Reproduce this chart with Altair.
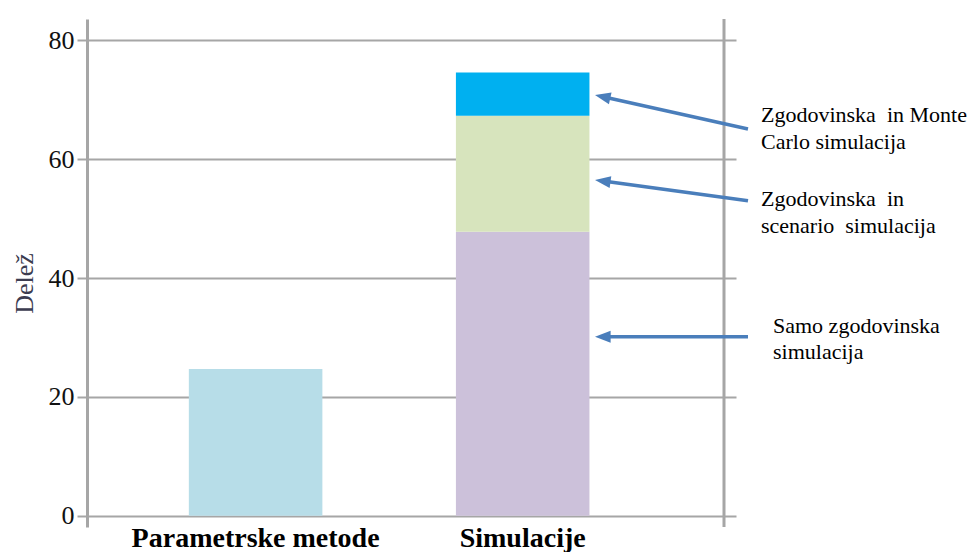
import math

import altair as alt
import pandas as pd

# ---- data -------------------------------------------------------------
categories = ["Parametrske metode", "Simulacije", "Simulacije", "Simulacije"]
segments = [
    "Parametrske metode",
    "Samo zgodovinska simulacija",
    "Zgodovinska in scenario simulacija",
    "Zgodovinska in Monte Carlo simulacija",
]
values = [24.7, 47.8, 19.5, 7.3]
stack_order = [0, 0, 1, 2]
segment_colors = ["#b7dde8", "#ccc1da", "#d7e4bd", "#00b0f0"]
y_ticks = [0, 20, 40, 60, 80]

# callouts: arrow tip / tail heights (data units) and two-line labels
arrow_tip_y = [70.8, 56.5, 30.1]
arrow_tail_y = [65.1, 53.0, 30.1]
label_line1 = ["Zgodovinska\u00a0 in Monte", "Zgodovinska\u00a0 in", "Samo zgodovinska"]
label_line2 = ["Carlo simulacija", "scenario\u00a0 simulacija", "simulacija"]
label_line1_y = [67.4, 53.3, 31.9]
label_line2_y = [62.9, 48.8, 27.5]

# ---- layout ------------------------------------------------------------
W, H = 649, 508
Y_DOMAIN = [-1.9, 83.6]
PX_PER_UNIT = H / (Y_DOMAIN[1] - Y_DOMAIN[0])
ARROW_TIP_X, ARROW_TAIL_X = 508, 661
LABEL_X = [674, 674, 686]
GRID = "#a6a6a6"
ARROW = "#4a7ebb"
FONT = "Liberation Serif"

bars = pd.DataFrame(
    {"category": categories, "segment": segments, "value": values, "order": stack_order}
)

head_len = 8
arrows = pd.DataFrame(
    {
        "tip": arrow_tip_y,
        "tail": arrow_tail_y,
    }
)
span = ARROW_TAIL_X - ARROW_TIP_X
arrows["start"] = arrows["tip"] + (arrows["tail"] - arrows["tip"]) * head_len / span
arrows["angle"] = [
    math.degrees(math.atan2((t - b) * PX_PER_UNIT, span))
    for t, b in zip(arrows["tip"], arrows["tail"])
]

labels = pd.DataFrame(
    {
        "text": label_line1 + label_line2,
        "y": label_line1_y + label_line2_y,
        "x": LABEL_X + LABEL_X,
    }
)

y_scale = alt.Scale(domain=Y_DOMAIN, nice=False, zero=False)

bar_layer = (
    alt.Chart(bars)
    .mark_bar()
    .encode(
        x=alt.X(
            "category:N",
            sort=["Parametrske metode", "Simulacije"],
            scale=alt.Scale(paddingInner=0.5, paddingOuter=0.465, align=0.41),
            axis=alt.Axis(
                title=None,
                domain=False,
                ticks=False,
                grid=False,
                labelAngle=0,
                labelLimit=0,
                labelFont=FONT,
                labelFontSize=28,
                labelFontWeight="bold",
                labelColor="#000000",
                labelBaseline="alphabetic",
                labelPadding=19,
            ),
        ),
        y=alt.Y(
            "value:Q",
            stack="zero",
            scale=y_scale,
            axis=alt.Axis(
                values=y_ticks,
                title="Delež",
                titleFont=FONT,
                titleFontSize=26,
                titleFontWeight="normal",
                titleColor="#3c3c50",
                titleAngle=-90,
                titleAlign="center",
                titleBaseline="middle",
                titleX=-63,
                titleY=264,
                labelFont=FONT,
                labelFontSize=26,
                labelColor="#111111",
                labelPadding=3,
                tickSize=10,
                tickColor=GRID,
                tickWidth=2,
                domainColor=GRID,
                domainWidth=3,
                gridColor=GRID,
                gridWidth=2,
            ),
        ),
        color=alt.Color(
            "segment:N",
            scale=alt.Scale(domain=segments, range=segment_colors),
            legend=None,
        ),
        order=alt.Order("order:Q"),
    )
)

right_frame = (
    alt.Chart(pd.DataFrame({"v": [0]}))
    .mark_rule(color=GRID, strokeWidth=3)
    .encode(x=alt.value(637), y=alt.value(0), y2=alt.value(H))
)

arrow_lines = (
    alt.Chart(arrows)
    .mark_rule(color=ARROW, strokeWidth=3.5)
    .encode(
        x=alt.value(ARROW_TIP_X + head_len),
        x2=alt.value(ARROW_TAIL_X),
        y=alt.Y("start:Q", scale=y_scale),
        y2="tail:Q",
    )
)

arrow_heads = (
    alt.Chart(arrows)
    .mark_point(
        shape="M0,0 L2.6,-1 L2.6,1 Z",
        filled=True,
        opacity=1,
        size=144,
        color=ARROW,
        strokeWidth=0,
    )
    .encode(
        x=alt.value(ARROW_TIP_X),
        y=alt.Y("tip:Q", scale=y_scale),
        angle=alt.Angle("angle:Q", scale=None),
    )
)

label_layer = (
    alt.Chart(labels)
    .mark_text(
        align="left",
        baseline="middle",
        font=FONT,
        fontSize=22,
        color="#000000",
    )
    .encode(
        x=alt.X("x:Q", scale=None),
        y=alt.Y("y:Q", scale=y_scale),
        text="text:N",
    )
)

chart = (
    alt.layer(bar_layer, right_frame, arrow_lines, arrow_heads, label_layer)
    .properties(
        width=W,
        height=H,
        autosize=alt.AutoSizeParams(type="none"),
        padding={"left": 87, "top": 19, "right": 975 - 87 - W, "bottom": 552 - 19 - H},
        background="#ffffff",
    )
    .configure_view(strokeWidth=0)
)

chart.save("out.html", embed_options={"renderer": "svg", "actions": False})
